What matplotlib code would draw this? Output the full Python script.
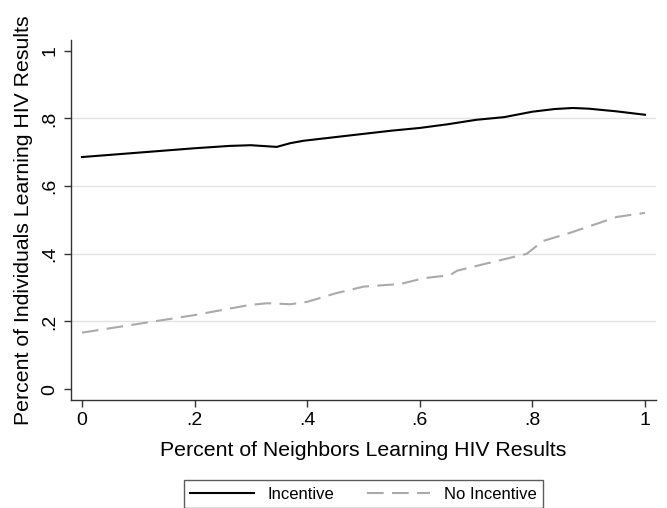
import numpy as np
import matplotlib
matplotlib.use("Agg")
from matplotlib import pyplot as plt

plt.rcParams['font.family'] = ['Liberation Sans', 'DejaVu Sans']

# Incentive group (solid black line)
inc_x = [0.0, 0.1, 0.2, 0.263, 0.30, 0.346, 0.37, 0.393, 0.471, 0.55, 0.60, 0.65,
         0.70, 0.75, 0.80, 0.84, 0.872, 0.90, 0.95, 1.0]
inc_y = [0.686, 0.699, 0.712, 0.719, 0.721, 0.716, 0.727, 0.734, 0.749, 0.764,
         0.772, 0.783, 0.796, 0.804, 0.820, 0.828, 0.831, 0.829, 0.821, 0.811]

# No incentive group (grey dashed line)
noinc_x = [0.0, 0.1, 0.2, 0.298, 0.33, 0.37, 0.40, 0.45, 0.50, 0.566, 0.607, 0.654,
           0.666, 0.72, 0.79, 0.819, 0.867, 0.95, 1.0]
noinc_y = [0.167, 0.193, 0.219, 0.249, 0.254, 0.251, 0.258, 0.283, 0.303, 0.311,
           0.328, 0.337, 0.350, 0.372, 0.400, 0.438, 0.462, 0.509, 0.521]

ticks = [0, 0.2, 0.4, 0.6, 0.8, 1.0]
tick_labels = ['0', '.2', '.4', '.6', '.8', '1']

fig = plt.figure(figsize=(6.67, 5.08), dpi=100)
ax = fig.add_axes([0.1064, 0.2126, 0.877, 0.7087])

ax.plot(inc_x, inc_y, color='black', lw=1.5, label='Incentive')
ax.plot(noinc_x, noinc_y, color='#aaaaaa', lw=1.5, dashes=(8, 4), label='No Incentive')

ax.set_xlim(-0.0195, 1.0195)
ax.set_ylim(-0.032, 1.032)
ax.set_xticks(ticks)
ax.set_xticklabels(tick_labels)
ax.set_yticks(ticks)
ax.set_yticklabels(tick_labels, rotation=90, va='center')

# light horizontal grid at inner ticks only
for y in [0.2, 0.4, 0.6, 0.8]:
    ax.axhline(y, color='#e2e2e2', lw=1, zorder=0)

for s in ['top', 'right']:
    ax.spines[s].set_visible(False)
for s in ['left', 'bottom']:
    ax.spines[s].set_color('#333333')
    ax.spines[s].set_linewidth(1)
ax.tick_params(direction='out', length=5, width=1, color='#333333',
               labelsize=14, pad=4)

ax.set_xlabel('Percent of Neighbors Learning HIV Results', fontsize=15.3, labelpad=8)
ax.set_ylabel('Percent of Individuals Learning HIV Results', fontsize=15.3, labelpad=6)

leg = ax.legend(loc='upper center', bbox_to_anchor=(0.5, -0.222), ncol=2,
                frameon=True, fancybox=False, fontsize=12, handlelength=3.8,
                columnspacing=2, borderpad=0.4, borderaxespad=0)
leg.get_frame().set_edgecolor('#333333')
leg.get_frame().set_linewidth(1)

fig.savefig('out.png', dpi=100)
